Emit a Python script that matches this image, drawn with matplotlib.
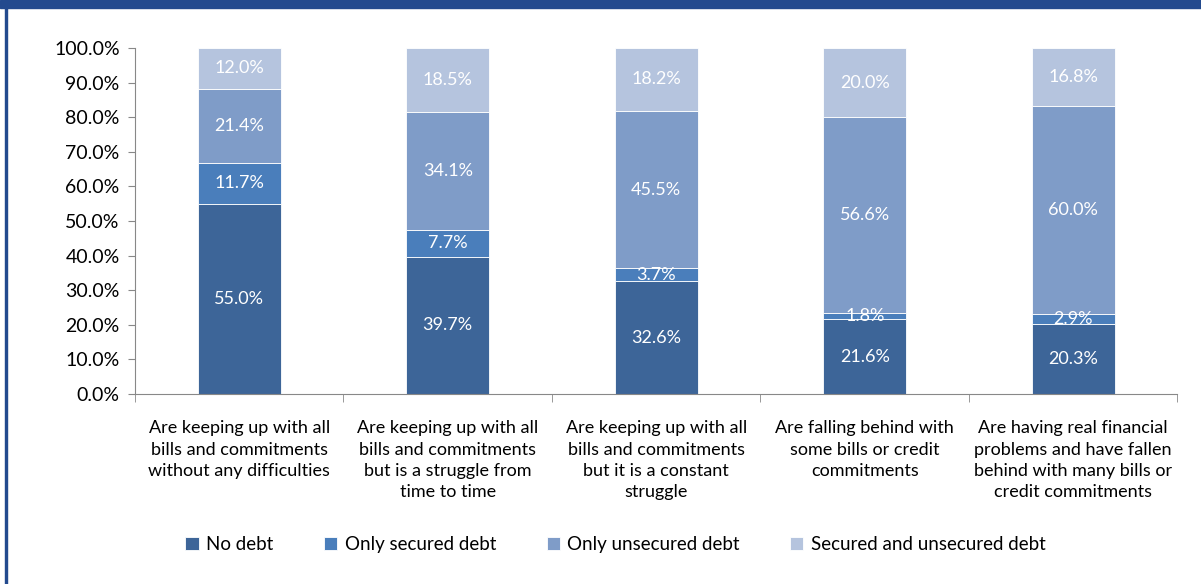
import matplotlib.pyplot as plt
import numpy as np
from matplotlib.patches import Rectangle

plt.rcParams['font.family'] = ['Lato', 'DejaVu Sans']

categories = [
    "Are keeping up with all\nbills and commitments\nwithout any difficulties",
    "Are keeping up with all\nbills and commitments\nbut is a struggle from\ntime to time",
    "Are keeping up with all\nbills and commitments\nbut it is a constant\nstruggle",
    "Are falling behind with\nsome bills or credit\ncommitments",
    "Are having real financial\nproblems and have fallen\nbehind with many bills or\ncredit commitments",
]
series_names = ["No debt", "Only secured debt", "Only unsecured debt",
                "Secured and unsecured debt"]
no_debt = [55.0, 39.7, 32.6, 21.6, 20.3]
only_secured = [11.7, 7.7, 3.7, 1.8, 2.9]
only_unsecured = [21.4, 34.1, 45.5, 56.6, 60.0]
secured_and_unsecured = [12.0, 18.5, 18.2, 20.0, 16.8]

colors = ["#3D6598", "#4A7EBB", "#7F9CC8", "#B5C4DE"]

fig = plt.figure(figsize=(12.01, 5.84), dpi=100)
ax = fig.add_axes([0.1124, 0.3253, 0.868, 0.5925])

x = np.arange(len(categories))
bottom = np.zeros(len(categories))
for name, vals, c in zip(series_names,
                         [no_debt, only_secured, only_unsecured, secured_and_unsecured],
                         colors):
    vals = np.array(vals)
    ax.bar(x, vals, 0.4, bottom=bottom, color=c, label=name,
           edgecolor="white", linewidth=0.6)
    for xi, b, v in zip(x, bottom, vals):
        ax.text(xi, b + v / 2, f"{v:.1f}%", ha="center", va="center",
                color="white", fontsize=13)
    bottom += vals

ax.set_xlim(-0.5, len(categories) - 0.5)
ax.set_ylim(0, 100)
ax.set_yticks(np.arange(0, 101, 10))
ax.set_yticklabels([f"{v:.1f}%" for v in np.arange(0, 101, 10)], fontsize=14)

ax.set_xticks(x)
ax.set_xticklabels(categories, fontsize=13, linespacing=1.4)
ax.tick_params(axis="x", length=0, pad=19)
ax.set_xticks(np.arange(-0.5, len(categories)), minor=True)
ax.tick_params(axis="x", which="minor", length=6, color="#888888")
ax.tick_params(axis="y", length=5, color="#888888", pad=6)

for s in ["top", "right"]:
    ax.spines[s].set_visible(False)
for s in ["left", "bottom"]:
    ax.spines[s].set_color("#888888")

ax.legend(loc="center", bbox_to_anchor=(0.461, -0.434), ncol=4, frameon=False,
          fontsize=13.5, handlelength=0.7, handleheight=0.7, columnspacing=2.7,
          handletextpad=0.4)

# frame: dark band on top and thin line on the left
fig.patches.append(Rectangle((0, 1 - 8 / 584), 1, 8 / 584, transform=fig.transFigure,
                             color="#234A8E", zorder=10))
fig.patches.append(Rectangle((5 / 1201, 0), 2 / 1201, 1, transform=fig.transFigure,
                             color="#234A8E", zorder=10))

fig.savefig("out.png", dpi=100)
